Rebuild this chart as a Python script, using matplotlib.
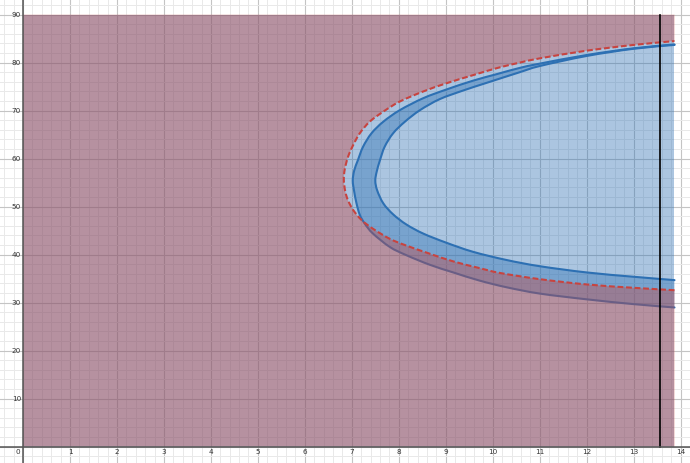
import matplotlib
matplotlib.use("Agg")
import matplotlib.pyplot as plt
from matplotlib.path import Path
from matplotlib.patches import PathPatch
import numpy as np

# ---- data ----
x_ticks = [1, 2, 3, 4, 5, 6, 7, 8, 9, 10, 11, 12, 13, 14]
y_ticks = [10, 20, 30, 40, 50, 60, 70, 80, 90]

v_max = 13.87      # right edge of shaded domain
theta_max = 90     # top edge of shaded domain
v_line = 13.57     # black vertical line

dashed_v = [13.87, 13.0, 12.0, 11.0, 10.15, 9.72, 9.16, 8.66, 8.16, 7.81, 7.45, 7.21, 7.03,
            6.92, 6.86, 6.83, 6.85, 6.92, 7.03, 7.17, 7.38, 7.67, 8.02, 8.52, 9.01, 9.58,
            10.10, 10.57, 11.0, 12.0, 13.0, 13.87]
dashed_theta = [32.6, 33.1, 33.8, 34.9, 36.2, 37.2, 38.6, 40.2, 41.9, 43.3, 45.4, 47.2, 49.3,
                51.3, 53.2, 55.6, 57.8, 60.4, 62.85, 65.3, 67.7, 69.8, 71.9, 74.0, 75.7, 77.4,
                78.9, 80.0, 80.9, 82.5, 83.7, 84.5]

outer_v = [13.87, 13.0, 12.0, 11.0, 10.3, 9.72, 9.16, 8.66, 8.16, 7.81, 7.45, 7.28, 7.17,
           7.10, 7.05, 7.02, 7.05, 7.13, 7.24, 7.42, 7.67, 8.02, 8.52, 9.01, 9.58, 10.08,
           10.57, 11.0, 12.0, 13.0, 13.87]
outer_theta = [29.0, 29.7, 30.7, 31.9, 33.2, 34.6, 36.3, 37.9, 39.9, 41.6, 44.4, 46.4, 48.3,
               50.7, 53.2, 55.4, 57.5, 59.7, 62.5, 65.3, 67.7, 70.1, 72.6, 74.4, 76.25, 77.6,
               78.9, 79.8, 81.6, 83.0, 83.8]

inner_v = [13.87, 13.0, 12.0, 11.0, 10.29, 9.58, 9.01, 8.52, 8.16, 7.88, 7.67, 7.54, 7.50,
           7.53, 7.60, 7.70, 7.88, 8.13, 8.45, 8.87, 9.37, 9.87, 10.57, 11.0, 12.0, 13.0, 13.87]
inner_theta = [34.7, 35.4, 36.3, 37.6, 38.9, 40.6, 42.5, 44.4, 46.3, 48.4, 50.7, 53.4, 55.4,
               57.3, 59.7, 62.5, 65.3, 67.7, 70.1, 72.4, 74.2, 75.8, 78.0, 79.3, 81.4, 82.9, 83.7]

BLUE = "#2d70b3"
RED = "#c74440"


def smooth_segments(xs, ys):
    """Vertices/codes of a smooth (Catmull-Rom style) curve through the given points."""
    P = np.column_stack([xs, ys]).astype(float)
    n = len(P)
    verts, codes = [], []
    for i in range(n - 1):
        p0 = P[i - 1] if i > 0 else P[i]
        p1, p2 = P[i], P[i + 1]
        p3 = P[i + 2] if i + 2 < n else P[i + 1]
        c1 = p1 + (p2 - p0) / 6.0
        c2 = p2 - (p3 - p1) / 6.0
        verts += [tuple(c1), tuple(c2), tuple(p2)]
        codes += [Path.CURVE4] * 3
    return verts, codes


def curve_path(xs, ys):
    v, c = smooth_segments(xs, ys)
    return Path([(xs[0], ys[0])] + v, [Path.MOVETO] + c)


fig = plt.figure(figsize=(6.9, 4.63), dpi=100)
ax = fig.add_axes([0, 0, 1, 1])
ax.set_xlim(-0.49, 14.19)
ax.set_ylim(-3.40, 93.06)
for s in ax.spines.values():
    s.set_visible(False)

# grid
ax.set_xticks(np.arange(0, 15, 1))
ax.set_xticks(np.arange(-0.4, 14.3, 0.2), minor=True)
ax.set_yticks(np.arange(0, 100, 10))
ax.set_yticks(np.arange(-2, 94, 2), minor=True)
ax.tick_params(which="both", length=0, labelbottom=False, labelleft=False)
ax.grid(which="minor", color="#e9e9e9", lw=0.7)
ax.grid(which="major", color="#c4c4c4", lw=0.8)
ax.set_axisbelow(True)

# blue domain rectangle
ax.fill([0, v_max, v_max, 0], [0, 0, theta_max, theta_max], color=BLUE, alpha=0.4, lw=0, zorder=2)

# blue band between outer and inner curves
ov, oc = smooth_segments(outer_v, outer_theta)
iv, ic = smooth_segments(inner_v[::-1], inner_theta[::-1])
band = Path([(outer_v[0], outer_theta[0])] + ov + [(inner_v[-1], inner_theta[-1])] + iv
            + [(outer_v[0], outer_theta[0])],
            [Path.MOVETO] + oc + [Path.LINETO] + ic + [Path.CLOSEPOLY])
ax.add_patch(PathPatch(band, facecolor=BLUE, alpha=0.4, lw=0, zorder=3))
ax.add_patch(PathPatch(curve_path(outer_v, outer_theta), facecolor="none", edgecolor=BLUE,
                       lw=1.5, zorder=4, capstyle="round", joinstyle="round"))
ax.add_patch(PathPatch(curve_path(inner_v, inner_theta), facecolor="none", edgecolor=BLUE,
                       lw=1.5, zorder=4, capstyle="round", joinstyle="round"))

# red region: outside the dashed curve
dv, dc = smooth_segments(dashed_v, dashed_theta)
red = Path([(0, 0), (v_max, 0), (dashed_v[0], dashed_theta[0])] + dv
           + [(v_max, theta_max), (0, theta_max), (0, 0)],
           [Path.MOVETO, Path.LINETO, Path.LINETO] + dc + [Path.LINETO, Path.LINETO, Path.CLOSEPOLY])
ax.add_patch(PathPatch(red, facecolor=RED, alpha=0.4, lw=0, zorder=5))
ax.add_patch(PathPatch(curve_path(dashed_v, dashed_theta), facecolor="none", edgecolor=RED,
                       lw=1.5, zorder=6, linestyle=(0, (2.8, 1.3))))

# vertical black line
ax.plot([v_line, v_line], [0, theta_max], color="black", lw=1.2, zorder=7)

# axes
ax.axhline(0, color="#555555", lw=1.1, zorder=8)
ax.axvline(0, color="#555555", lw=1.1, zorder=8)

# labels
for t in x_ticks:
    ax.text(t, -1.05, str(t), ha="center", va="center", fontsize=5.2, color="#333333", zorder=9)
ax.text(-0.06, -1.05, "0", ha="right", va="center", fontsize=5.2, color="#333333", zorder=9)
for t in y_ticks:
    ax.text(-0.04, t, str(t), ha="right", va="center", fontsize=5.2, color="#333333", zorder=9)

fig.savefig("out.png", dpi=100)
